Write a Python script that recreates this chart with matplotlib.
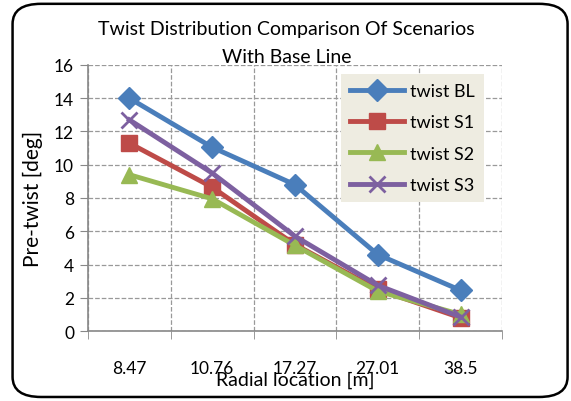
import matplotlib.pyplot as plt
from matplotlib.patches import FancyBboxPatch

plt.rcParams['font.family'] = ['Lato', 'DejaVu Sans']

# Radial stations along the blade and twist per scenario
radial = ["8.47", "10.76", "17.27", "27.01", "38.5"]
twist_bl = [14.0, 11.05, 8.8, 4.6, 2.45]
twist_s1 = [11.3, 8.65, 5.2, 2.5, 0.8]
twist_s2 = [9.4, 7.95, 5.15, 2.4, 1.0]
twist_s3 = [12.7, 9.5, 5.7, 2.75, 0.85]

series = [
    ("twist BL", twist_bl, "#4A7EBB", "D", 11),
    ("twist S1", twist_s1, "#BE4B48", "s", 11),
    ("twist S2", twist_s2, "#98B954", "^", 12),
    ("twist S3", twist_s3, "#7D60A0", "x", 12),
]

fig = plt.figure(figsize=(5.71, 4.02), dpi=100)
ax = fig.add_axes([0.154, 0.174, 0.725, 0.662])

x = list(range(len(radial)))
for label, vals, color, marker, ms in series:
    ax.plot(x, vals, color=color, lw=3.5, marker=marker, ms=ms,
            mew=2 if marker == "x" else 1, mec=color, label=label)

ax.set_xlim(-0.5, len(radial) - 0.5)
ax.set_ylim(0, 16)
ax.set_yticks(range(0, 17, 2))
ax.set_xticks(x)
ax.set_xticklabels(radial)
ax.set_xticks([i - 0.5 for i in range(len(radial) + 1)], minor=True)
ax.tick_params(axis='x', which='major', length=0, pad=21, labelsize=12.5)
ax.tick_params(axis='x', which='minor', length=6, color='#888888', direction='out')
ax.tick_params(axis='y', length=6, color='#888888', labelsize=12.5, pad=4)

ax.grid(True, axis='y', linestyle='--', color='#999999', lw=0.9)
ax.grid(True, axis='x', which='minor', linestyle='--', color='#999999', lw=0.9)
for side in ['top', 'right']:
    ax.spines[side].set_visible(False)
for side in ['left', 'bottom']:
    ax.spines[side].set_color('#888888')
    ax.spines[side].set_linewidth(1.2)

ax.set_title("Twist Distribution Comparison Of Scenarios\nWith Base Line",
             fontsize=14, linespacing=1.75, pad=-2, x=0.48)
ax.set_ylabel("Pre-twist [deg]", fontsize=15, labelpad=8)
ax.set_xlabel("Radial location [m]", fontsize=14, labelpad=-4)

leg = ax.legend(loc='upper left', bbox_to_anchor=(0.59, 1.0), fontsize=13,
                frameon=True, fancybox=False, handlelength=3.0,
                labelspacing=0.85, borderpad=0.5, handletextpad=0.3)
leg.get_frame().set_facecolor('#EEECE1')
leg.get_frame().set_edgecolor('none')
leg.get_frame().set_alpha(1)

# rounded outer chart border
border = FancyBboxPatch((0.022, 0.01), 0.972, 0.978, transform=fig.transFigure,
                        boxstyle="round,pad=0,rounding_size=0.05",
                        fill=False, edgecolor='black', lw=1.8)
fig.patches.append(border)

fig.savefig("out.png", dpi=100)
